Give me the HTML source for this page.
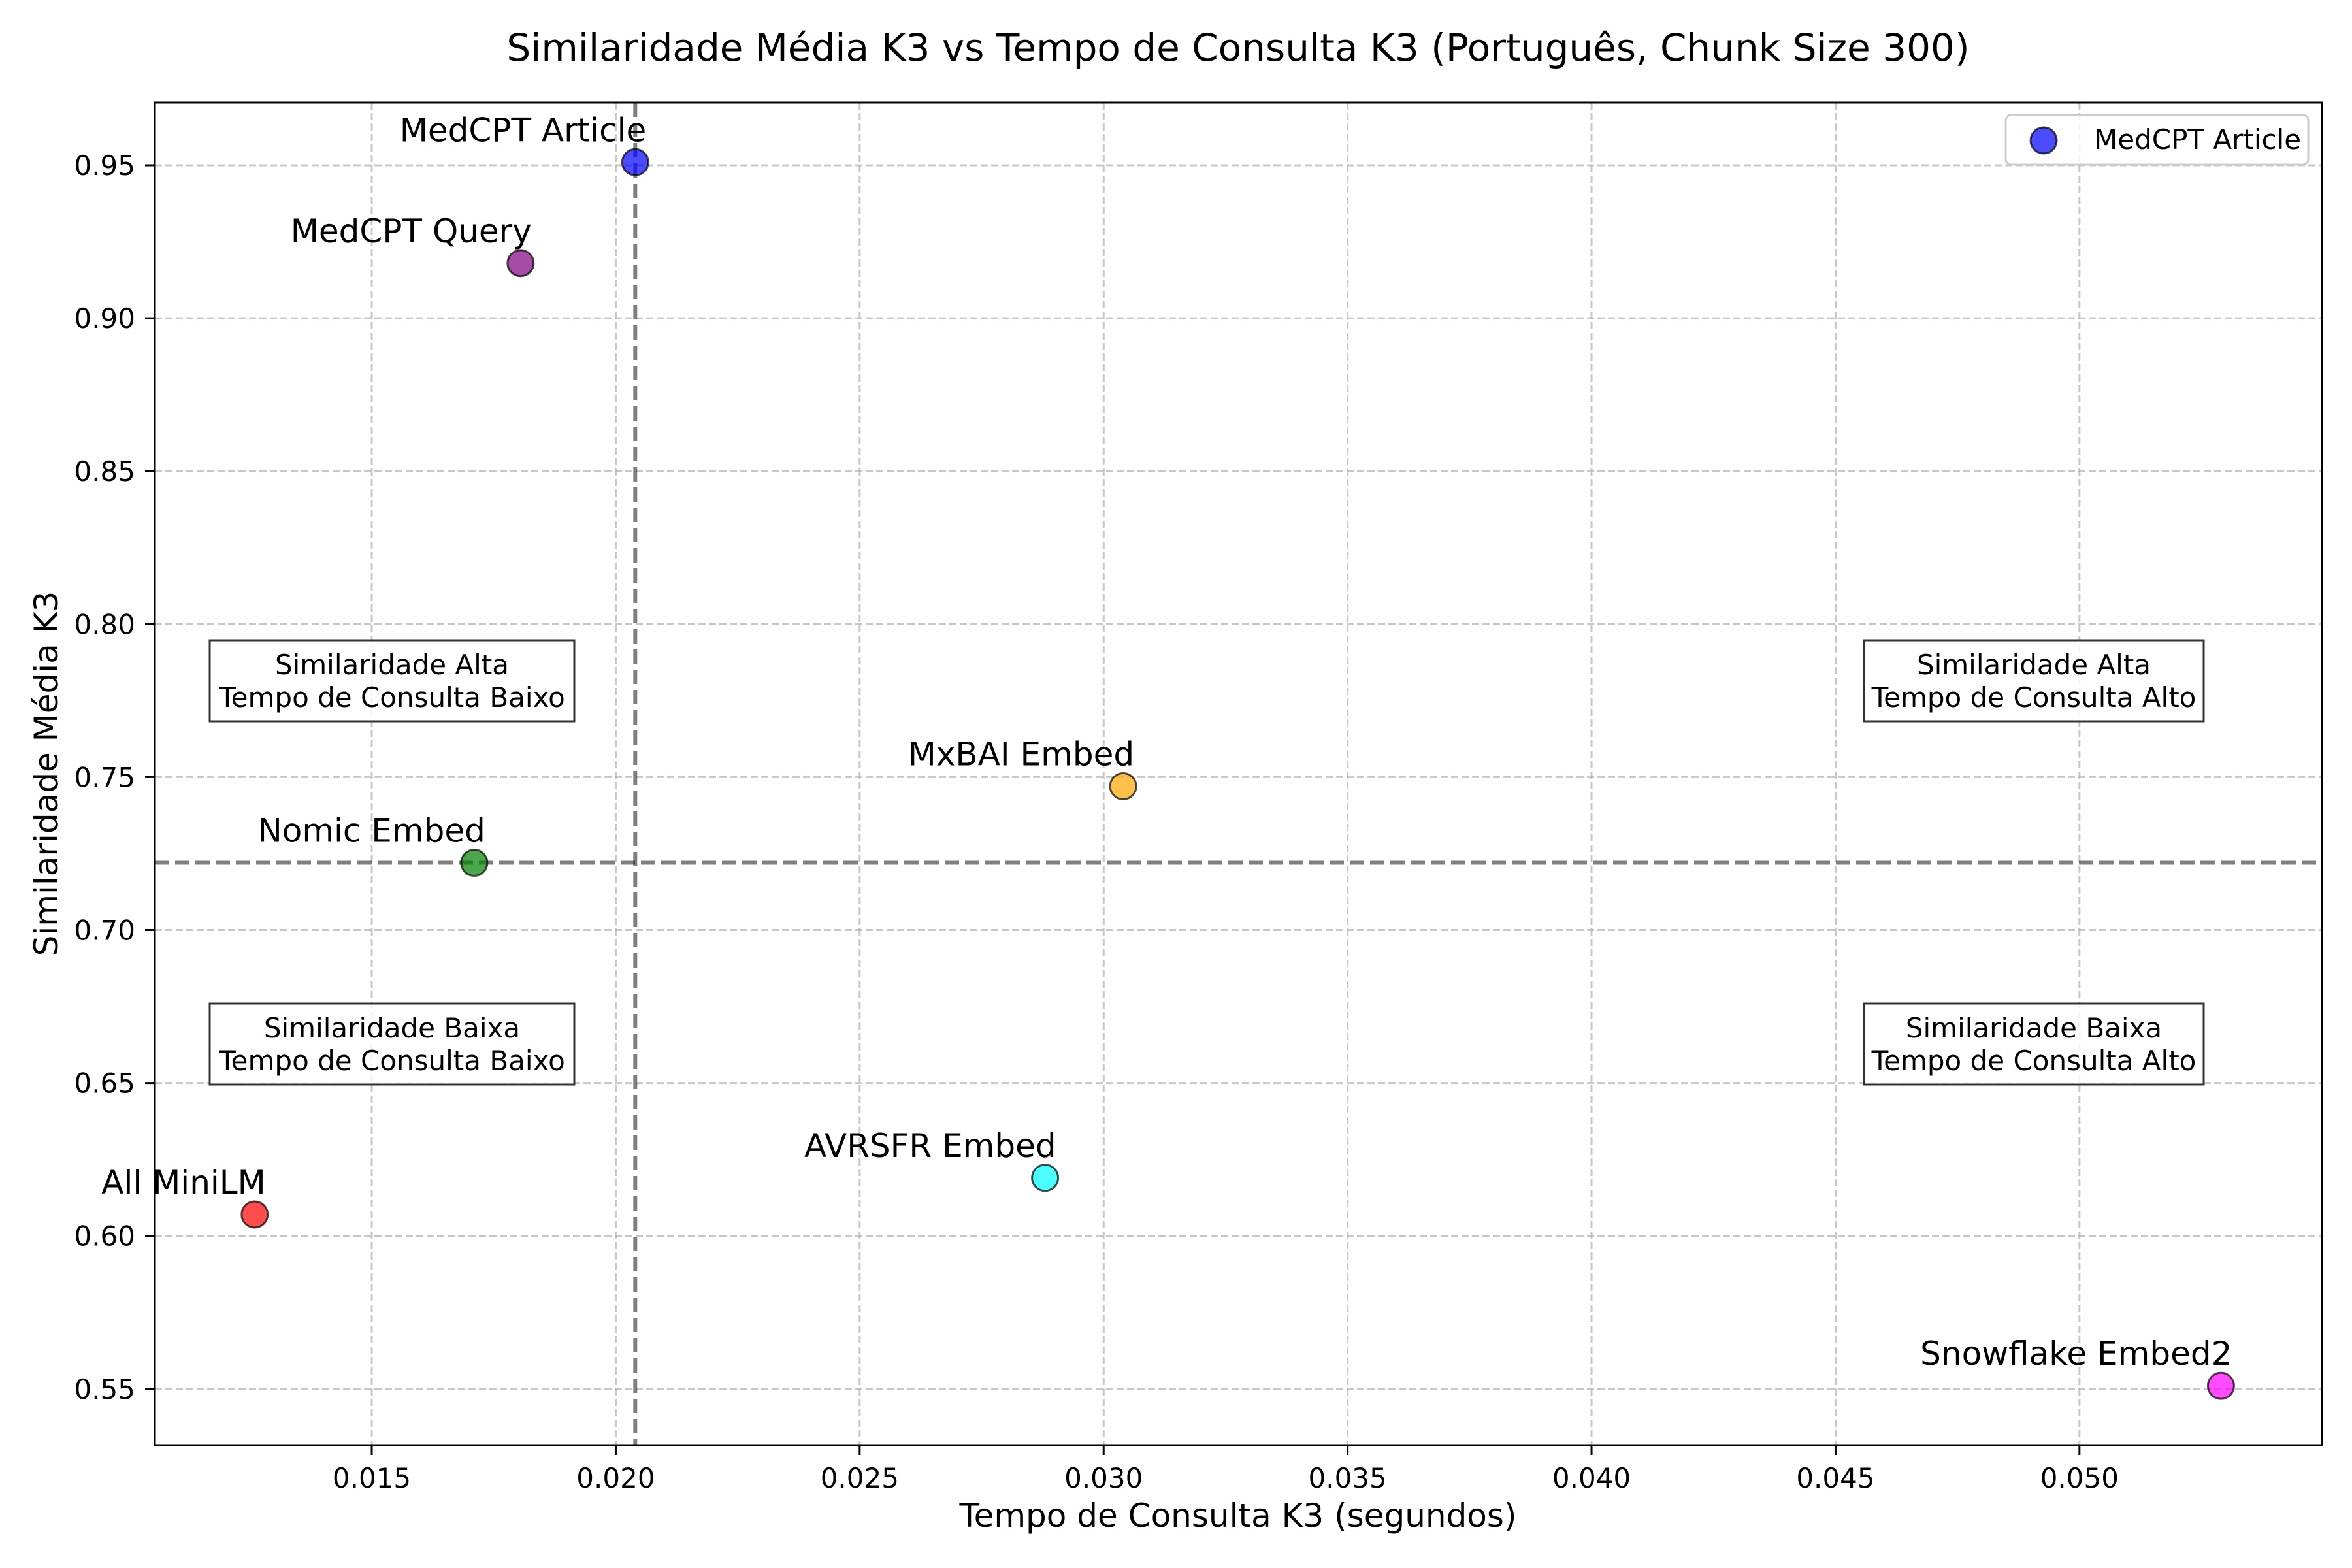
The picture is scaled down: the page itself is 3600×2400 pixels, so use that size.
<!DOCTYPE html>
<html><head><meta charset="utf-8"><style>
html,body{margin:0;padding:0;background:#fff;}
svg{display:block;font-family:"DejaVu Sans","Liberation Sans",sans-serif;}
</style></head><body>
<svg id="chart" width="3600" height="2400" viewBox="0 0 3600 2400" xmlns="http://www.w3.org/2000/svg">
<rect width="3600" height="2400" fill="#fff"/>
<text x="1895" y="93" font-size="58" text-anchor="middle">Similaridade Média K3 vs Tempo de Consulta K3 (Português, Chunk Size 300)</text>
<g id="grid"></g>
<g id="quad"></g>
<g id="medians"></g>
<g id="points"></g>
<rect x="237" y="157" width="3317" height="2055" fill="none" stroke="#000" stroke-width="3"/>
<g id="ticks"></g>
<text x="1895" y="2337" font-size="50" text-anchor="middle">Tempo de Consulta K3 (segundos)</text>
<text transform="translate(88,1184) rotate(-90)" font-size="50" text-anchor="middle">Similaridade Média K3</text>
<g>
<rect x="3070" y="176" width="463" height="76" rx="8" fill="#fff" fill-opacity="0.8" stroke="#ccc" stroke-width="3"/>
<circle cx="3128" cy="215" r="20" fill="#0000ff" fill-opacity="0.7" stroke="#000" stroke-opacity="0.7" stroke-width="3"/>
<text x="3205" y="228" font-size="42">MedCPT Article</text>
</g>
</svg>
<script>
const names = ["MedCPT Article","MedCPT Query","Nomic Embed","All MiniLM","AVRSFR Embed","MxBAI Embed","Snowflake Embed2"];
const times = [0.0204,0.01805,0.0171,0.0126,0.0288,0.0304,0.0529];
const sims = [0.951,0.918,0.722,0.607,0.619,0.747,0.551];
const colors = ["#0000ff","#800080","#008000","#ff0000","#00ffff","#ffa500","#ff00ff"];
const xTicks = [0.015,0.020,0.025,0.030,0.035,0.040,0.045,0.050];
const yTicks = [0.55,0.60,0.65,0.70,0.75,0.80,0.85,0.90,0.95];
const medianX = 0.0204;
const medianY = 0.722;
const quadrantLabels = ["Similaridade Alta\nTempo de Consulta Baixo","Similaridade Alta\nTempo de Consulta Alto","Similaridade Baixa\nTempo de Consulta Baixo","Similaridade Baixa\nTempo de Consulta Alto"];

const L=237,R=3554,T=157,B=2212;
const xmin=0.010554,xmax=0.05497,ymin=0.5316,ymax=0.9705;
const sx=v=>L+(v-xmin)/(xmax-xmin)*(R-L);
const sy=v=>B-(v-ymin)/(ymax-ymin)*(B-T);
const NS="http://www.w3.org/2000/svg";
function mk(tag,attrs,parent,txt){const e=document.createElementNS(NS,tag);for(const k in attrs)e.setAttribute(k,attrs[k]);if(txt!==undefined)e.textContent=txt;parent.appendChild(e);return e;}
const grid=document.getElementById('grid'),ticks=document.getElementById('ticks');
xTicks.forEach(v=>{const x=sx(v);
 const g=mk('line',{x1:x,x2:x,y1:T,y2:B,stroke:'#b0b0b0','stroke-opacity':0.7,'stroke-width':3,'stroke-dasharray':'11 5'},grid);
 
 
 const t=mk('line',{x1:x,x2:x,y1:B,y2:B+15,stroke:'#000','stroke-width':3},ticks);
 
 
 const l=mk('text',{x:x,y:2277,'font-size':42,'text-anchor':'middle'},ticks,v.toFixed(3));
 
 
});
yTicks.forEach(v=>{const y=sy(v);
 const g=mk('line',{x1:L,x2:R,y1:y,y2:y,stroke:'#b0b0b0','stroke-opacity':0.7,'stroke-width':3,'stroke-dasharray':'11 5'},grid);
 
 
 const t=mk('line',{x1:L-15,x2:L,y1:y,y2:y,stroke:'#000','stroke-width':3},ticks);
 
 
 const l=mk('text',{x:207,y:y+15,'font-size':42,'text-anchor':'end'},ticks,v.toFixed(2));
 
 
});
const med=document.getElementById('medians');
const mv=mk('line',{x1:sx(medianX),x2:sx(medianX),y1:T,y2:B,stroke:'#000','stroke-opacity':0.5,'stroke-width':6,'stroke-dasharray':'22 9'},med);


const mh=mk('line',{x1:L,x2:R,y1:sy(medianY),y2:sy(medianY),stroke:'#000','stroke-opacity':0.5,'stroke-width':6,'stroke-dasharray':'22 9'},med);


const quad=document.getElementById('quad');
const qpos=[[600,1042,558],[3113,1042,520],[600,1598,558],[3113,1598,520]];
quadrantLabels.forEach((s,i)=>{const [cx,cy,w]=qpos[i];
 const g=mk('g',{},quad);
 
 
 mk('rect',{x:cx-w/2,y:cy-62,width:w,height:124,fill:'#fff','fill-opacity':0.8,stroke:'#333','stroke-width':3},g);
 const lines=s.split('\n');
 mk('text',{x:cx,y:cy-10,'font-size':42,'text-anchor':'middle'},g,lines[0]);
 mk('text',{x:cx,y:cy+40,'font-size':42,'text-anchor':'middle'},g,lines[1]);
});
const pts=document.getElementById('points');
names.forEach((n,i)=>{const x=sx(times[i]),y=sy(sims[i]);
 const c=mk('circle',{cx:x,cy:y,r:20,fill:colors[i],'fill-opacity':0.7,stroke:'#000','stroke-opacity':0.7,'stroke-width':3},pts);
 
 
 const t=mk('text',{x:x+17,y:y-32,'font-size':50,'text-anchor':'end'},pts,n);
 
 
});
</script>
</body></html>
